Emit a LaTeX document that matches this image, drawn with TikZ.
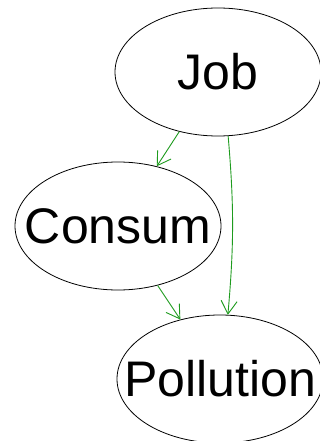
\documentclass[tikz,border=0pt]{standalone}
\usepackage{fontspec}
\setmainfont{Liberation Sans}
\usetikzlibrary{shapes.geometric,arrows.meta}
\definecolor{edgegreen}{RGB}{30,155,30}
\tikzset{
  varnode/.style={ellipse, draw=black, line width=0.8pt, inner sep=0pt,
    minimum width=206pt, minimum height=128pt, font=\fontsize{50}{60}\selectfont},
  causal/.style={draw=edgegreen, line width=0.9pt,
    -{Straight Barb[length=13pt,width=16pt,line width=0.9pt]}}
}
\newcommand{\nodetext}[1]{\makebox[0pt][c]{#1}}
\begin{document}
\begin{tikzpicture}[x=1pt,y=-1pt]
\useasboundingbox (0,0) rectangle (320,441);
\node[varnode] (job) at (218,72) {\nodetext{Job}};
\node[varnode] (consum) at (118,226) {\nodetext{Consum}};
\node[varnode] (pollution) at (220,379) {\nodetext{Pollution}};
\draw[causal] (job) -- (consum);
\draw[causal] (consum) -- (pollution);
\draw[causal] (job.-81) to[bend left=5] (pollution.83);
\end{tikzpicture}
\end{document}
